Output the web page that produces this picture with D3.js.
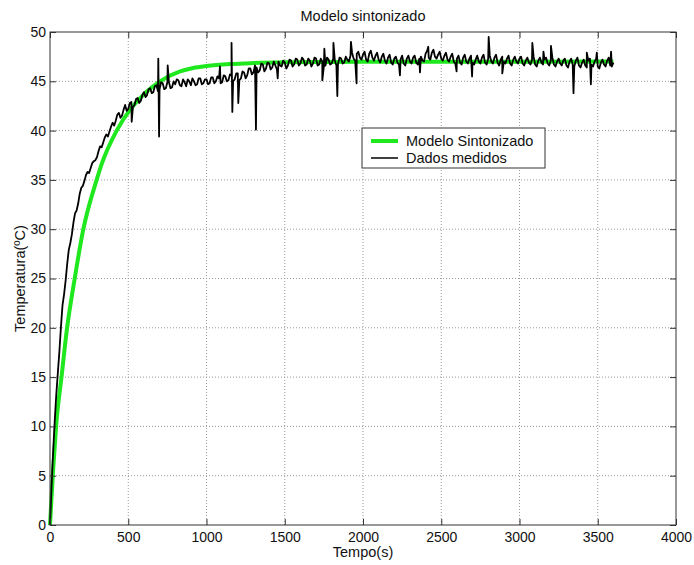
<!DOCTYPE html>
<html>
<head>
<meta charset="utf-8">
<style>
  body { margin: 0; background: #fff; }
  svg text { font-family: "Liberation Sans", Arial, sans-serif; fill: #111; }
  .grid line { stroke: #999; stroke-dasharray: 1,2; }
  .tick line { stroke: #333; }
</style>
<title>Modelo sintonizado</title>
<script src="https://cdn.jsdelivr.net/npm/d3@7"></script>
</head>
<body>
<script>

// ticks
var xTicks = [0, 500, 1000, 1500, 2000, 2500, 3000, 3500, 4000];
var yTicks = [0, 5, 10, 15, 20, 25, 30, 35, 40, 45, 50];

// measured data, one value every 10 s (0..3600)
var passo = 10;
var medidos = [
  0, 3.9, 7.4, 10.5, 13.2, 15.4, 17.6, 20.1, 22.3, 23.4, 24.8, 26.5, 27.9, 28.6, 29.5, 30.7, 31.6, 31.9, 32.6, 33.6,
  34.2, 34.4, 34.9, 35.5, 35.8, 35.7, 36.2, 36.7, 36.9, 37.0, 37.3, 37.9, 38.4, 38.3, 38.8, 39.3, 39.6, 39.4, 39.9, 40.4,
  40.8, 40.5, 41.0, 41.6, 41.8, 41.3, 41.5, 42.1, 42.6, 42.0, 42.2, 42.8, 42.9, 42.4, 42.6, 43.2, 43.3, 42.8, 43.0, 43.6,
  43.9, 43.4, 43.6, 44.2, 44.3, 43.8, 43.9, 44.5, 44.6, 44.0, 44.2, 44.9, 44.8, 44.2, 44.3, 44.9, 44.9, 44.3, 44.4, 45.0,
  44.7, 45.2, 45.1, 44.6, 44.5, 45.2, 44.9, 44.5, 45.2, 45.0, 44.6, 45.3, 45.0, 44.6, 44.7, 45.3, 45.3, 44.7, 44.8, 45.2,
  45.2, 44.7, 44.8, 45.4, 45.4, 44.8, 45.0, 45.5, 45.3, 44.8, 44.9, 45.6, 45.5, 45.0, 45.1, 45.7, 45.6, 45.0, 45.2, 45.8,
  45.8, 45.1, 45.3, 46.0, 45.9, 45.3, 45.6, 46.3, 46.3, 45.7, 45.9, 46.6, 46.4, 45.9, 46.1, 46.8, 46.7, 46.0, 46.3, 46.9,
  46.8, 46.2, 46.4, 47.0, 46.6, 46.2, 47.0, 46.6, 46.5, 47.1, 46.9, 46.3, 46.6, 47.2, 47.1, 46.5, 46.7, 47.3, 47.2, 46.6,
  46.8, 47.4, 47.2, 46.6, 46.7, 47.3, 47.1, 46.5, 46.8, 47.4, 47.3, 46.6, 46.7, 47.3, 47.0, 46.5, 46.6, 47.4, 47.2, 46.7,
  46.8, 47.3, 47.1, 46.6, 46.7, 47.4, 47.3, 46.8, 46.9, 47.5, 47.2, 47.0, 47.6, 47.9, 47.3, 47.1, 47.8, 48.0, 47.4, 47.2,
  47.7, 48.0, 47.2, 47.0, 47.8, 48.1, 47.4, 47.1, 47.6, 47.9, 47.2, 46.9, 47.5, 47.8, 47.1, 46.8, 47.4, 47.7, 46.9, 46.7,
  47.3, 47.5, 46.9, 46.7, 47.2, 47.6, 46.8, 46.6, 47.3, 47.6, 47.0, 46.8, 47.4, 47.6, 46.9, 46.7, 47.3, 47.5, 47.1, 47.0,
  47.8, 48.1, 47.4, 47.2, 47.9, 48.2, 47.5, 47.3, 47.7, 48.0, 47.3, 47.1, 47.6, 47.9, 47.2, 47.0, 47.5, 47.8, 47.0, 46.8,
  47.3, 47.6, 46.9, 46.7, 47.4, 47.7, 47.0, 46.8, 47.3, 47.6, 46.9, 46.7, 47.2, 47.6, 47.0, 46.8, 47.4, 47.7, 46.9, 46.7,
  47.3, 47.6, 47.0, 46.8, 47.4, 47.7, 46.9, 46.6, 47.2, 47.5, 47.0, 46.8, 47.3, 47.6, 46.8, 46.6, 47.2, 47.5, 47.0, 46.8,
  47.3, 47.5, 46.8, 46.6, 47.1, 47.4, 46.9, 46.7, 47.2, 47.5, 46.7, 46.5, 47.1, 47.4, 46.9, 46.7, 47.2, 47.4, 46.8, 46.6,
  47.1, 47.4, 46.7, 46.5, 47.0, 47.3, 46.8, 46.6, 47.1, 47.3, 46.6, 46.4, 47.0, 47.3, 46.7, 46.5, 47.1, 47.4, 46.6, 46.4,
  46.9, 47.2, 46.6, 46.4, 47.1, 47.3, 46.7, 46.5, 47.0, 47.3, 46.5, 46.3, 46.9, 47.2, 46.7, 46.5, 47.1, 47.4, 46.6, 46.5,
  46.9
];

// isolated spikes in the measurement [tempo, temperatura]
var picos = [
  [522, 40.9], [692, 47.3], [697, 39.4], [752, 46.6], [1086, 46.5],
  [1160, 48.9], [1165, 41.9], [1203, 42.8], [1316, 40.1], [1455, 45.3],
  [1740, 45.1], [1753, 48.3], [1811, 48.9], [1836, 43.5], [1923, 49.0],
  [1959, 44.8], [2236, 45.6], [2364, 45.9], [2417, 48.5], [2598, 46.0],
  [2697, 45.5], [2803, 49.5], [2890, 45.8], [3082, 48.9], [3153, 48.0],
  [3201, 48.6], [3345, 43.8], [3430, 47.9], [3456, 44.7], [3494, 47.9],
  [3585, 48.0]
];

// tuned model
var modeloT = [0, 20, 40, 75, 106, 160, 213, 298, 330, 426, 511, 607, 703, 831, 914, 1000, 1150, 1300, 1500, 2000, 3600];
var modeloV = [0, 5.6, 10.2, 15.2, 19.6, 25.2, 30.0, 35.0, 36.6, 40.0, 42.1, 43.8, 45.0, 46.0, 46.35, 46.55, 46.75, 46.85, 46.92, 46.98, 47.0];

var margin = {top: 32, right: 18, bottom: 40, left: 50},
    width  = 694 - margin.left - margin.right,
    height = 565 - margin.top - margin.bottom;

var x = d3.scaleLinear().domain([0, 4000]).range([0, width]);
var y = d3.scaleLinear().domain([0, 50]).range([height, 0]);

var svg = d3.select("body").append("svg")
    .attr("width", 694)
    .attr("height", 565);
var g = svg.append("g")
    .attr("transform", `translate(${margin.left},${margin.top})`);

// grid
g.append("g").attr("class", "grid")
  .selectAll("line").data(xTicks.slice(1, -1)).enter().append("line")
    .attr("x1", d => x(d)).attr("x2", d => x(d))
    .attr("y1", 0).attr("y2", height);
g.append("g").attr("class", "grid")
  .selectAll("line").data(yTicks.slice(1, -1)).enter().append("line")
    .attr("x1", 0).attr("x2", width)
    .attr("y1", d => y(d)).attr("y2", d => y(d));

// curves
var serie = medidos.map((v, i) => [i * passo, v]).concat(picos)
    .sort((a, b) => a[0] - b[0]);
var modelo = modeloT.map((t, i) => [t, modeloV[i]]);

g.append("path")
    .datum(modelo)
    .attr("fill", "none")
    .attr("stroke", "#1fe81f")
    .attr("stroke-width", 4)
    .attr("d", d3.line().x(d => x(d[0])).y(d => y(d[1])).curve(d3.curveMonotoneX));

g.append("path")
    .datum(serie)
    .attr("fill", "none")
    .attr("stroke", "#000")
    .attr("stroke-width", 1.8)
    .attr("stroke-linejoin", "round")
    .attr("d", d3.line().x(d => x(d[0])).y(d => y(d[1])));

// axes
function semDominio(sel) { sel.select(".domain").remove(); }
var fmt = d3.format("d");

g.append("g")
    .attr("transform", `translate(0,${height})`)
    .call(d3.axisBottom(x).tickValues(xTicks).tickSize(-6).tickPadding(7).tickFormat(fmt))
    .call(semDominio)
    .selectAll("text").attr("font-size", 14);
g.append("g")
    .call(d3.axisTop(x).tickValues(xTicks).tickSize(-6).tickFormat(""))
    .call(semDominio);
g.append("g")
    .call(d3.axisLeft(y).tickValues(yTicks).tickSize(-6).tickPadding(4).tickFormat(fmt))
    .call(semDominio)
    .selectAll("text").attr("font-size", 14);
g.append("g")
    .attr("transform", `translate(${width},0)`)
    .call(d3.axisRight(y).tickValues(yTicks).tickSize(-6).tickFormat(""))
    .call(semDominio);

g.append("rect")
    .attr("width", width).attr("height", height)
    .attr("fill", "none").attr("stroke", "#333");

// titles
svg.append("text")
    .attr("x", margin.left + width / 2).attr("y", 21)
    .attr("text-anchor", "middle").attr("font-size", 14.5)
    .text("Modelo sintonizado");
svg.append("text")
    .attr("x", margin.left + width / 2).attr("y", 557)
    .attr("text-anchor", "middle").attr("font-size", 14.5)
    .text("Tempo(s)");
svg.append("text")
    .attr("transform", `translate(25,${margin.top + height / 2}) rotate(-90)`)
    .attr("text-anchor", "middle").attr("font-size", 14.5)
    .text("Temperatura(ºC)");

// legend
var leg = svg.append("g").attr("transform", "translate(362,128)");
leg.append("rect")
    .attr("width", 183).attr("height", 40)
    .attr("fill", "#fff").attr("stroke", "#333");
var itens = [
  {nome: "Modelo Sintonizado", cor: "#1fe81f", w: 4},
  {nome: "Dados medidos", cor: "#000", w: 1.5}
];
var item = leg.selectAll(".item").data(itens).enter().append("g")
    .attr("class", "item")
    .attr("transform", (d, i) => `translate(0,${13 + i * 17})`);
item.append("line")
    .attr("x1", 9).attr("x2", 36)
    .attr("stroke", d => d.cor).attr("stroke-width", d => d.w);
item.append("text")
    .attr("x", 44).attr("dy", "0.35em").attr("font-size", 14.5)
    .text(d => d.nome);

</script>
</body>
</html>
